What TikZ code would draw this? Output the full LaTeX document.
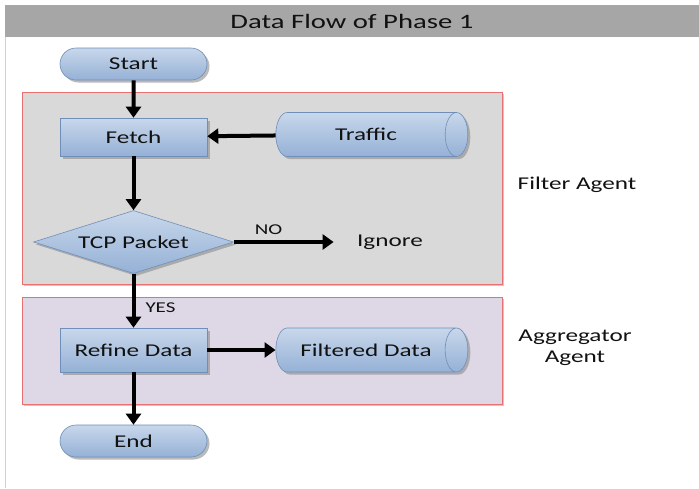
\documentclass[tikz,border=0pt]{standalone}
\usepackage{fontspec}
\setmainfont{Carlito}[FakeStretch=1.4]
\usepackage{tikz}
\usetikzlibrary{arrows.meta,positioning,shapes.geometric,shapes.misc,shadows}
\definecolor{titlegray}{HTML}{A6A6A6}
\definecolor{framegray}{HTML}{D0D0D0}
\definecolor{filtergray}{HTML}{D9D9D9}
\definecolor{lavender}{HTML}{DED7E5}
\definecolor{boxred}{HTML}{E87070}
\definecolor{toplight}{HTML}{C8D7EB}
\definecolor{bottomblue}{HTML}{95B1D6}
\definecolor{edgeblue}{HTML}{6F8FB8}
\definecolor{ink}{HTML}{111111}

\begin{document}
\begin{tikzpicture}[
  x=1pt,
  y=-1pt,
  font=\fontsize{18}{21}\selectfont,
  text=ink,
  shade/.style={drop shadow={shadow xshift=2.5pt, shadow yshift=-2.5pt, fill=black!45, opacity=0.6}},
  bluefill/.style={top color=toplight, bottom color=bottomblue, draw=edgeblue, line width=0.6pt, shade},
  terminal/.style={bluefill, rounded rectangle, minimum width=147pt, minimum height=32pt, inner sep=0pt},
  process/.style={bluefill, rectangle, minimum width=147pt, inner sep=0pt},
  decision/.style={bluefill, diamond, aspect=3.2, minimum width=200pt, minimum height=63pt, inner sep=0pt},
  store/.style={bluefill, cylinder, aspect=1.8, minimum height=192pt, minimum width=44pt, inner sep=0pt},
  agentbox/.style={draw=boxred, line width=0.8pt, drop shadow={shadow xshift=2pt, shadow yshift=-2pt, fill=black!35, opacity=0.6}},
  flow/.style={-{Triangle[length=11pt, width=15pt]}, line width=4pt, draw=black},
  tag/.style={font=\fontsize{15}{18}\selectfont, inner sep=2pt}
]
  \useasboundingbox (0,0) rectangle (699,488);
  \fill[white] (0,0) rectangle (699,488);

  % frame and title
  \draw[framegray, line width=1pt] (5,37) -- (5,488);
  \node[fill=titlegray, minimum width=694pt, minimum height=32pt, inner sep=0pt] (title) at (352,21) {};
  \node[font=\fontsize{20.5}{24}\selectfont] at (title.center) {Data Flow of Phase 1};

  % agent regions
  \node[agentbox, fill=filtergray, minimum width=480pt, minimum height=192pt, inner sep=0pt] (filter) at (262,188) {};
  \node[agentbox, fill=lavender, minimum width=480pt, minimum height=107pt, inner sep=0pt] (aggregator) at (262,350.5) {};
  \node (filterlabel) at (577,185) {Filter Agent};
  \node[align=center] (aggregatorlabel) at (575,348) {Aggregator\\Agent};

  % flow
  \node[terminal] (start) at (133.5,64) {Start};
  \node[process, minimum height=38pt] (fetch) at (133.5,137) {Fetch};
  \node[store] (traffic) at (366,134.5) {Traffic};
  \node[decision] (tcp) at (133.5,242) {TCP Packet};
  \node (ignore) at (390,242) {Ignore};
  \node[process, minimum height=44pt] (refine) at (133.5,350) {Refine Data};
  \node[store] (filtered) at (366,350) {Filtered Data};
  \node[terminal] (end) at (133.5,441) {End};

  \draw[flow] (start) -- (fetch);
  \draw[flow] (traffic) -- (fetch);
  \draw[flow] (fetch) -- (tcp);
  \draw[flow, shorten >=20pt] (tcp.east) -- (ignore.west)
    node[tag, pos=0.29, above=3pt] {NO};
  \draw[flow] (tcp) -- (refine)
    node[tag, pos=0.62, right=8pt] {YES};
  \draw[flow] (refine) -- (filtered);
  \draw[flow] (refine) -- (end);
\end{tikzpicture}
\end{document}
